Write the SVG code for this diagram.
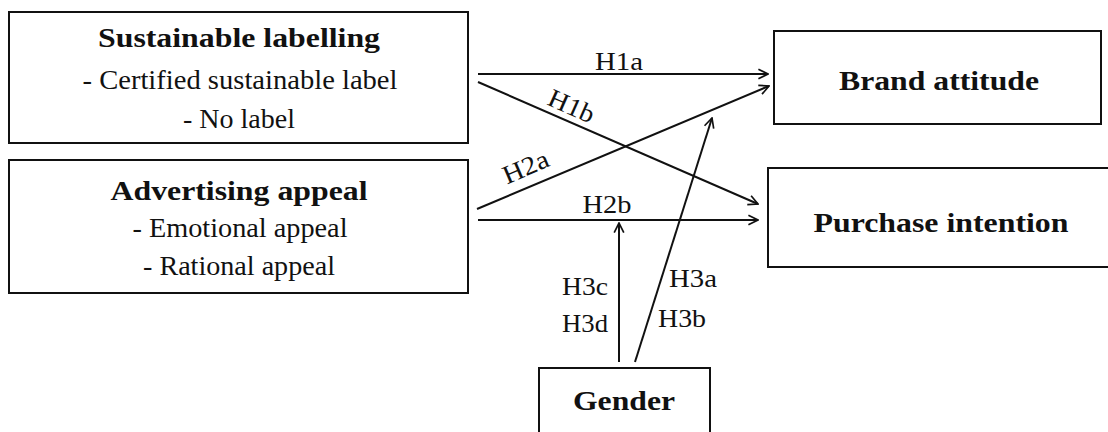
<svg xmlns="http://www.w3.org/2000/svg" width="1108" height="432" viewBox="0 0 1108 432">
<defs>
<style>
.box{fill:#fff;stroke:#111;stroke-width:2}
.t{font-family:"Liberation Serif","Times New Roman",serif;fill:#111;text-anchor:middle}
.b{font-weight:bold;font-size:27px}
.r{font-size:27px}
.l{font-size:26px}
.c{stroke:#111;stroke-width:2;fill:none;marker-end:url(#ah)}
</style>
<marker id="ah" viewBox="0 0 10 10" refX="9" refY="5" markerWidth="6" markerHeight="6" orient="auto" markerUnits="strokeWidth">
<path d="M1,1 L9,5 L1,9" fill="none" stroke="#111" stroke-width="1.4"/>
</marker>
</defs>
<rect width="1108" height="432" fill="#fff"/>
<g id="sustainable-labelling">
<rect class="box" x="9" y="12" width="459" height="131"/>
<text class="t b" x="239" y="47" textLength="282" lengthAdjust="spacingAndGlyphs">Sustainable labelling</text>
<text class="t r" x="240" y="89" textLength="315" lengthAdjust="spacingAndGlyphs">- Certified sustainable label</text>
<text class="t r" x="239" y="128" textLength="112" lengthAdjust="spacingAndGlyphs">- No label</text>
</g>
<g id="advertising-appeal">
<rect class="box" x="9" y="160" width="459" height="133"/>
<text class="t b" x="239" y="200" textLength="257" lengthAdjust="spacingAndGlyphs">Advertising appeal</text>
<text class="t r" x="240" y="237" textLength="215" lengthAdjust="spacingAndGlyphs">- Emotional appeal</text>
<text class="t r" x="239" y="275" textLength="192" lengthAdjust="spacingAndGlyphs">- Rational appeal</text>
</g>
<g id="brand-attitude">
<rect class="box" x="774" y="31" width="327" height="93"/>
<text class="t b" x="939" y="90" textLength="200" lengthAdjust="spacingAndGlyphs">Brand attitude</text>
</g>
<g id="purchase-intention">
<rect class="box" x="768" y="168" width="345" height="99"/>
<text class="t b" x="941" y="232" textLength="255" lengthAdjust="spacingAndGlyphs">Purchase intention</text>
</g>
<g id="gender">
<rect class="box" x="539" y="368" width="171" height="70"/>
<text class="t b" x="624" y="410" textLength="102" lengthAdjust="spacingAndGlyphs">Gender</text>
</g>
<g id="connectors">
<line class="c" x1="478" y1="74" x2="768" y2="74"/>
<line class="c" x1="478" y1="82" x2="758" y2="204"/>
<line class="c" x1="477" y1="209" x2="769" y2="86"/>
<line class="c" x1="478" y1="220" x2="758" y2="220"/>
<line class="c" x1="619" y1="362" x2="619" y2="223"/>
<line class="c" x1="635" y1="362" x2="712" y2="118"/>
<text class="t l" x="619" y="70" textLength="48" lengthAdjust="spacingAndGlyphs">H1a</text>
<text class="t l" x="568" y="114" textLength="48" lengthAdjust="spacingAndGlyphs" transform="rotate(24 568 114)">H1b</text>
<text class="t l" x="529" y="175" textLength="48" lengthAdjust="spacingAndGlyphs" transform="rotate(-23 529 175)">H2a</text>
<text class="t l" x="607" y="213" textLength="49" lengthAdjust="spacingAndGlyphs">H2b</text>
<text class="t l" x="585" y="295" textLength="46" lengthAdjust="spacingAndGlyphs">H3c</text>
<text class="t l" x="585" y="332" textLength="46" lengthAdjust="spacingAndGlyphs">H3d</text>
<text class="t l" x="693" y="287" textLength="48" lengthAdjust="spacingAndGlyphs">H3a</text>
<text class="t l" x="682" y="327" textLength="48" lengthAdjust="spacingAndGlyphs">H3b</text>
</g>
</svg>
